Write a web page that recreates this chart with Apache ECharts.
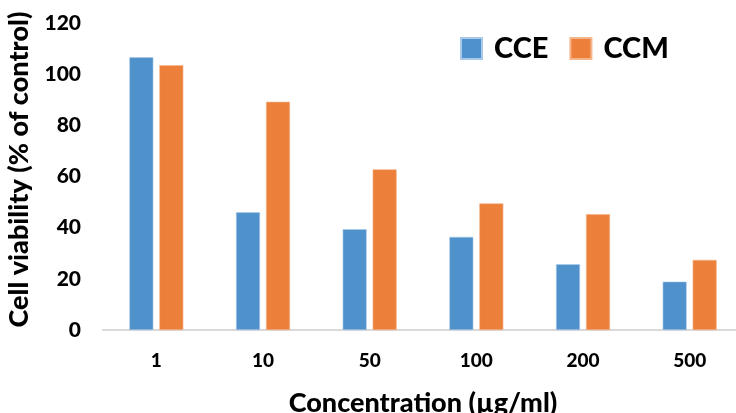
<!DOCTYPE html>
<html>
<head>
<meta charset="utf-8">
<script src="https://cdn.jsdelivr.net/npm/echarts@6/dist/echarts.min.js"></script>
<style>
  html, body { margin: 0; padding: 0; background: #fff; }
  #chart { width: 736px; height: 413px; }
</style>
</head>
<body>
<div id="chart"></div>
<script>
// Concentrations tested (µg/ml)
const concentrations = ['1', '10', '50', '100', '200', '500'];
// Cell viability, % of control
const cceValues = [106.6, 46.0, 39.4, 36.4, 25.7, 18.9];
const ccmValues = [103.5, 89.2, 62.8, 49.5, 45.3, 27.4];
const yTicks = { min: 0, max: 120, interval: 20 };

const FONT = 'Lato, "Open Sans", sans-serif';
const chart = echarts.init(document.getElementById('chart'), null, { renderer: 'canvas' });

chart.setOption({
  animation: false,
  backgroundColor: '#ffffff',
  grid: { left: 103, top: 23, width: 640, height: 307, containLabel: false, outerBoundsMode: 'none' },
  legend: {
    data: ['CCE', 'CCM'],
    left: 460,
    top: 34,
    padding: 0,
    itemWidth: 21,
    itemHeight: 21,
    itemGap: 21,
    icon: 'rect',
    textStyle: { fontFamily: FONT, fontWeight: 900, fontSize: 29, color: '#000', padding: [0, 0, 0, 7] }
  },
  xAxis: {
    type: 'category',
    data: concentrations,
    name: 'Concentration (µg/ml)',
    nameLocation: 'middle',
    nameGap: 60,
    nameTextStyle: { fontFamily: FONT, fontWeight: 900, fontSize: 27, color: '#000' },
    axisLine: { lineStyle: { color: '#d9d9d9', width: 2 } },
    axisTick: { show: false },
    axisLabel: { fontFamily: FONT, fontWeight: 900, fontSize: 19, color: '#000', margin: 21 }
  },
  yAxis: {
    type: 'value',
    min: yTicks.min,
    max: yTicks.max,
    interval: yTicks.interval,
    name: 'Cell viability (% of control)',
    nameLocation: 'middle',
    nameGap: 70,
    nameTextStyle: { fontFamily: FONT, fontWeight: 900, fontSize: 27, color: '#000', padding: [0, 0, 0, 14] },
    axisLine: { show: false },
    axisTick: { show: false },
    splitLine: { show: false },
    axisLabel: { fontFamily: FONT, fontWeight: 900, fontSize: 21, color: '#000', margin: 22 }
  },
  series: [
    {
      name: 'CCE',
      type: 'bar',
      data: cceValues,
      barWidth: 24,
      barGap: '25%',
      itemStyle: { color: '#4e91cb', borderColor: '#a9c9e8', borderWidth: 0.6 }
    },
    {
      name: 'CCM',
      type: 'bar',
      data: ccmValues,
      barWidth: 24,
      barGap: '25%',
      itemStyle: { color: '#ec7f39', borderColor: '#f5b58c', borderWidth: 0.6 }
    }
  ]
});
</script>
</body>
</html>
